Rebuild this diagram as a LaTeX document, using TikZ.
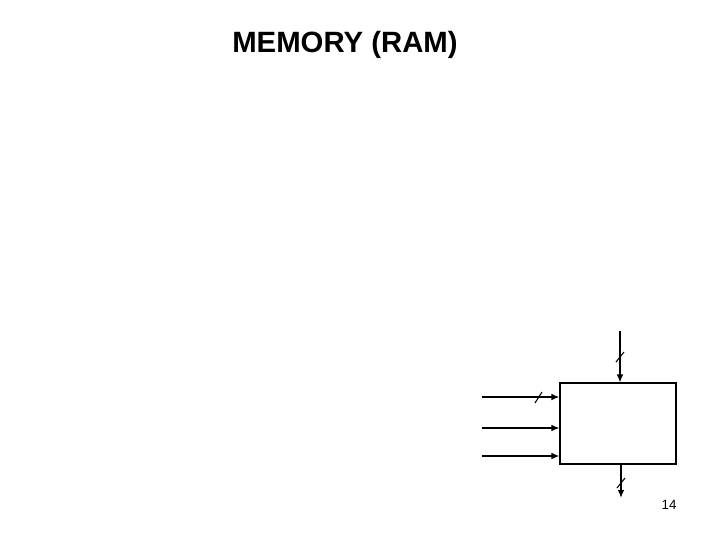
\documentclass[tikz,border=0pt]{standalone}
\usepackage{fontspec}
\setmainfont{Liberation Sans}
\begin{document}
\begin{tikzpicture}[x=0.75pt,y=-0.75pt,
  arr/.style={-{Latex[length=6pt,width=5pt]}},
  thick1/.style={line width=1pt},
  thick2/.style={line width=2.2pt},
  slash/.style={line width=0.8pt}]
\usetikzlibrary{arrows.meta}
\useasboundingbox (0,0) rectangle (720,540);
\node[font=\bfseries\fontsize{22}{26}\selectfont] (title) at (345,45) {MEMORY (RAM)};
\node[draw,line width=0.8pt,minimum width=87pt,minimum height=60.75pt,inner sep=0pt] (mem) at (618,423.5) {};
\coordinate (t0) at (620,331);
\coordinate (l1) at (482,397);
\coordinate (l2) at (482,428);
\coordinate (l3) at (482,456);
\coordinate (b1) at (621,498);
\draw[arr,thick1] (t0) -- (t0 |- mem.north);
\draw[arr,thick2] (l1) -- (l1 -| mem.west);
\draw[arr,thick1] (l2) -- (l2 -| mem.west);
\draw[arr,thick2] (l3) -- (l3 -| mem.west);
\draw[arr,thick2] (b1 |- mem.south) -- (b1);
\draw[slash] (616,362) -- (624,352);
\draw[slash] (535,403) -- (542,392);
\draw[slash] (617,488) -- (625,478);
\node[font=\fontsize{10}{12}\selectfont] (pg) at (669,505) {14};
\end{tikzpicture}
\end{document}
